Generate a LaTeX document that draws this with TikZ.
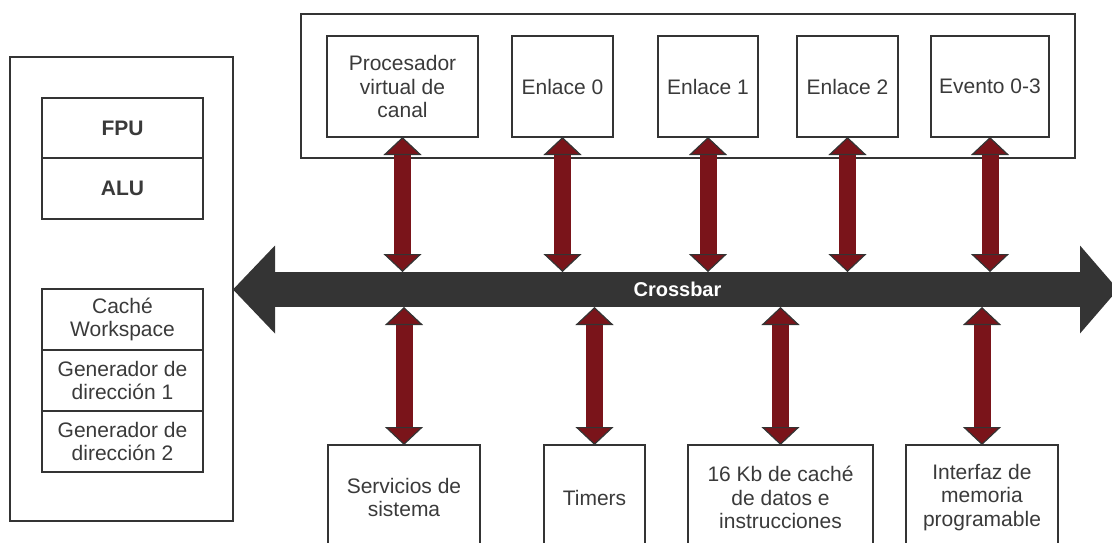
\documentclass[tikz,border=0pt]{standalone}
\usepackage{fontspec}
\setmainfont{Liberation Sans}
\usetikzlibrary{positioning,arrows.meta}
\definecolor{rojobus}{RGB}{122,20,26}
\definecolor{grisbarra}{RGB}{52,52,52}
\definecolor{gristexto}{RGB}{58,58,58}

\begin{document}
\begin{tikzpicture}[x=1pt,y=-1pt,
	caja/.style={draw=grisbarra, line width=2pt, outer sep=0pt, inner sep=0pt, align=center, text=gristexto, font=\fontsize{21}{23.5}\selectfont},
	negrita/.style={font=\fontsize{21}{23.5}\selectfont\bfseries},
	bus/.style={rojobus, line width=17pt, >={Triangle[width=38pt,length=18pt,fill=rojobus,color=grisbarra,line width=1.2pt]}, <->}]
	\useasboundingbox (0,0) rectangle (1112,542);
	\clip (0,0) rectangle (1112,542);
	
	%Bloque izquierdo
	\node[caja, minimum width=223pt, minimum height=464pt] (cpu) at (121.5,289) {};
	\node[caja, negrita, minimum width=161pt, minimum height=60pt] (fpu) at (122.5,128) {FPU};
	\node[caja, negrita, minimum width=161pt, minimum height=61pt, below=0pt of fpu] (alu) {ALU};
	\node[caja, minimum width=161pt, minimum height=61pt] (cache) at (122.5,319.5) {Caché\\Workspace};
	\node[caja, minimum width=161pt, minimum height=61pt, below=0pt of cache] (gen1) {Generador de\\dirección 1};
	\node[caja, minimum width=161pt, minimum height=61pt, below=0pt of gen1] (gen2) {Generador de\\dirección 2};
	
	%Bloque superior
	\node[caja, minimum width=774pt, minimum height=144pt] (canal) at (688,86) {};
	\node[caja, minimum width=151pt, minimum height=101pt] (proc) at (402.5,86.5) {Procesador\\virtual de\\canal};
	\node[caja, minimum width=101pt, minimum height=101pt] (enl0) at (562.5,86.5) {Enlace 0};
	\node[caja, minimum width=100pt, minimum height=101pt] (enl1) at (708,86.5) {Enlace 1};
	\node[caja, minimum width=101pt, minimum height=101pt] (enl2) at (847.5,86.5) {Enlace 2};
	\node[caja, minimum width=118pt, minimum height=101pt] (evt) at (990,86.5) {Evento 0-3};
	
	%Bloque inferior
	\node[caja, minimum width=152pt, minimum height=105pt] (serv) at (404,497.5) {Servicios de\\sistema};
	\node[caja, minimum width=101pt, minimum height=105pt] (tim) at (594.5,497.5) {Timers};
	\node[caja, minimum width=185pt, minimum height=105pt] (kb) at (780.5,497.5) {16 Kb de caché\\de datos e\\instrucciones};
	\node[caja, minimum width=152pt, minimum height=105pt] (mem) at (982,497.5) {Interfaz de\\memoria\\programable};
	
	%Crossbar
	\node[fill=grisbarra, minimum width=805pt, minimum height=35pt, inner sep=0pt, outer sep=0pt, text=white, font=\fontsize{20}{22}\selectfont\bfseries] (xbar) at (677.5,289.5) {Crossbar};
	\fill[grisbarra] (xbar.west) ++(0,-44) -- ++(-42,44) -- ++(42,44) -- cycle;
	\fill[grisbarra] (xbar.east) ++(0,-44) -- ++(38,44) -- ++(-38,44) -- cycle;
	
	%Buses
	\foreach \n in {proc,enl0,enl1,enl2,evt}
		\draw[bus] (\n.south) -- (\n.south |- xbar.north);
	\foreach \n in {serv,tim,kb,mem}
		\draw[bus] (\n.north) -- (\n.north |- xbar.south);
\end{tikzpicture}
\end{document}
